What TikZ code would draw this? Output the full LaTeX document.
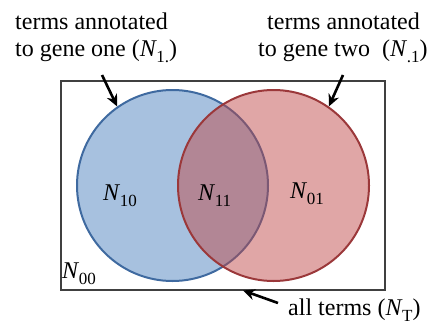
\documentclass[tikz,border=0pt]{standalone}
\usepackage{fontspec}
\setmainfont{Liberation Serif}
\usetikzlibrary{arrows.meta}
\definecolor{bluefill}{RGB}{167,193,223}
\definecolor{bluedraw}{RGB}{63,106,160}
\definecolor{redfill}{RGB}{190,70,70}
\definecolor{reddraw}{RGB}{155,56,58}
\definecolor{boxdraw}{RGB}{64,64,64}
\newcommand{\Nsb}[1]{\textit{N}\kern-0.02em\raisebox{-0.25em}{\fontsize{17}{17}\selectfont #1}}
\tikzset{
  lbl/.style={anchor=base west, inner sep=0pt, font=\fontsize{24}{28}\selectfont},
  ptr/.style={line width=2.6pt, -{Stealth[length=12pt,width=11pt]}, black},
}
\begin{document}
\begin{tikzpicture}[x=1pt,y=-1pt]
\useasboundingbox (0,0) rectangle (430,324);
\node[draw=boxdraw, line width=2.4pt, minimum width=324pt, minimum height=209pt, inner sep=0pt] (box) at (223,185.5) {};
\node[circle, fill=bluefill, draw=bluedraw, line width=2pt, minimum size=191pt, inner sep=0pt] (blue) at (172.5,185.5) {};
\node[circle, fill=redfill, fill opacity=0.48, draw=reddraw, line width=2pt, minimum size=191pt, inner sep=0pt] (red) at (273.5,185.5) {};
\node[lbl] (t1) at (15,29) {terms annotated};
\node[lbl] (t2) at (15,56) {to gene one (\Nsb{1.})};
\node[lbl] (t3) at (267,29) {terms annotated};
\node[lbl] (t4) at (258,56) {to gene two~ (\Nsb{.1})};
\node[lbl] (t5) at (288,315) {all terms (\Nsb{T})};
\node[lbl] (n10) at (103,200) {\Nsb{10}};
\node[lbl] (n11) at (198,200) {\Nsb{11}};
\node[lbl] (n01) at (290,198) {\Nsb{01}};
\node[lbl] (n00) at (62,278) {\Nsb{00}};
\coordinate (a1) at (102,75);
\coordinate (a2) at (343,75);
\coordinate (a3) at (278,303);
\draw[ptr] (a1) -- (blue.125);
\draw[ptr] (a2) -- (red.55);
\draw[ptr] (a3) -- (243,290.5);
\end{tikzpicture}
\end{document}
